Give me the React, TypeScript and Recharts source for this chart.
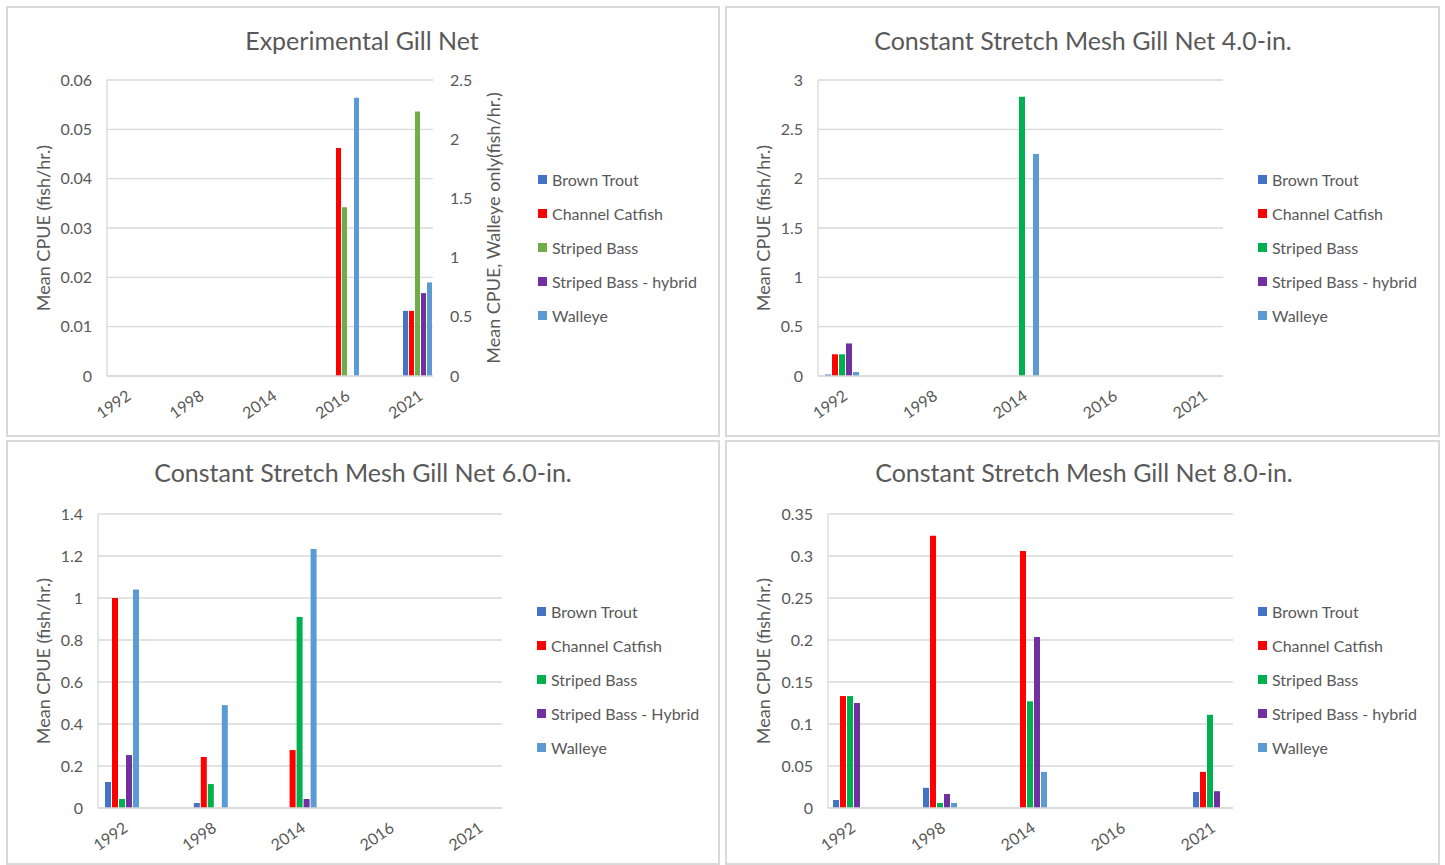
import { BarChart, Bar, XAxis, YAxis, CartesianGrid, Legend } from "recharts";

const years = ["1992", "1998", "2014", "2016", "2021"];

// Experimental Gill Net (walleye on secondary axis)
const expBrown = [0, 0, 0, 0, 0.0132];
const expCatfish = [0, 0, 0, 0.0462, 0.0132];
const expStriped = [0, 0, 0, 0.0342, 0.0536];
const expHybrid = [0, 0, 0, 0, 0.0168];
const expWalleye = [0, 0, 0, 2.35, 0.79];

// Constant Stretch Mesh Gill Net 4.0-in.
const m4Brown = [0.015, 0, 0, 0, 0];
const m4Catfish = [0.22, 0, 0, 0, 0];
const m4Striped = [0.22, 0, 2.83, 0, 0];
const m4Hybrid = [0.33, 0, 0, 0, 0];
const m4Walleye = [0.04, 0, 2.25, 0, 0];

// Constant Stretch Mesh Gill Net 6.0-in.
const m6Brown = [0.124, 0.024, 0, 0, 0];
const m6Catfish = [1.0, 0.243, 0.276, 0, 0];
const m6Striped = [0.043, 0.114, 0.91, 0, 0];
const m6Hybrid = [0.252, 0, 0.043, 0, 0];
const m6Walleye = [1.04, 0.49, 1.233, 0, 0];

// Constant Stretch Mesh Gill Net 8.0-in.
const m8Brown = [0.0095, 0.024, 0, 0, 0.019];
const m8Catfish = [0.1333, 0.324, 0.306, 0, 0.043];
const m8Striped = [0.1333, 0.006, 0.127, 0, 0.111];
const m8Hybrid = [0.125, 0.0167, 0.2035, 0, 0.02];
const m8Walleye = [0, 0.006, 0.043, 0, 0];

const namesLower = ["Brown Trout", "Channel Catfish", "Striped Bass", "Striped Bass - hybrid", "Walleye"];
const namesUpper = ["Brown Trout", "Channel Catfish", "Striped Bass", "Striped Bass - Hybrid", "Walleye"];

const ticksExpLeft = [0, 0.01, 0.02, 0.03, 0.04, 0.05, 0.06];
const ticksExpRight = [0, 0.5, 1, 1.5, 2, 2.5];
const ticksM4 = [0, 0.5, 1, 1.5, 2, 2.5, 3];
const ticksM6 = [0, 0.2, 0.4, 0.6, 0.8, 1, 1.2, 1.4];
const ticksM8 = [0, 0.05, 0.1, 0.15, 0.2, 0.25, 0.3, 0.35];

const grey = "#595959";
const gridColor = "#d9d9d9";
const font = "Lato, 'Open Sans', sans-serif";
const brownColor = "#4472C4";
const catfishColor = "#FF0000";
const stripedGreen = "#70AD47";
const stripedBright = "#00B050";
const hybridColor = "#7030A0";
const walleyeColor = "#5B9BD5";

const makeRows = (b: number[], c: number[], s: number[], h: number[], w: number[]) =>
  years.map((year, i) => ({ year, brown: b[i], catfish: c[i], striped: s[i], hybrid: h[i], walleye: w[i] }));

const renderLegend = (props: any) => (
  <div style={{ fontFamily: font, fontSize: 16, color: grey }}>
    {(props.payload || []).map((p: any) => (
      <div key={p.value} style={{ display: "flex", alignItems: "center", height: 33.8, whiteSpace: "nowrap" }}>
        <span style={{ display: "inline-block", width: 9, height: 9, background: p.color, marginRight: 5 }} />
        <span>{p.value}</span>
      </div>
    ))}
  </div>
);

const tickStyle = { fill: grey, fontSize: 16, fontFamily: font };

function Panel(props: any) {
  const { x, y, w, h, title, titleX, titleY, rows, names, stripedColor, margin, leftTicks, rightTicks,
    pad, barSize, legendX, legendY, yTitleX, rightTitleX, axisTitleY } = props;
  const last = leftTicks.length - 1;
  return (
    <>
      <div style={{ position: "absolute", left: x, top: y, width: w, height: h, border: `2px solid ${gridColor}`, boxSizing: "border-box", background: "#fff" }} />
      <div style={{ position: "absolute", left: titleX, top: titleY, transform: "translate(-50%, -50%)", whiteSpace: "nowrap", fontFamily: font, fontSize: 25, color: grey }}>
        {title}
      </div>
      <div style={{ position: "absolute", left: x, top: y }}>
        <BarChart width={w} height={h} data={rows} margin={margin} barGap={1}>
          <CartesianGrid yAxisId="left" vertical={false} stroke={gridColor} strokeWidth={1.3} />
          <XAxis dataKey="year" height={50} padding={pad} interval={0} tickLine={false}
            axisLine={{ stroke: gridColor, strokeWidth: 1.5 }} tick={tickStyle} angle={-35} textAnchor="end" tickMargin={7} />
          <YAxis yAxisId="left" width={50} domain={[leftTicks[0], leftTicks[last]]} ticks={leftTicks}
            tickLine={false} axisLine={{ stroke: gridColor, strokeWidth: 1.3 }} tick={tickStyle} tickMargin={9} />
          {rightTicks && (
            <YAxis yAxisId="right" orientation="right" width={60} domain={[0, rightTicks[rightTicks.length - 1]]}
              ticks={rightTicks} tickLine={false} axisLine={false} tick={{ ...tickStyle, textAnchor: "start" }} tickMargin={11} />
          )}
          <Legend layout="vertical" align="center" verticalAlign="middle" content={renderLegend}
            wrapperStyle={{ left: legendX, top: legendY, width: 190 }} />
          <Bar yAxisId="left" dataKey="brown" name={names[0]} fill={brownColor} barSize={barSize} isAnimationActive={false} />
          <Bar yAxisId="left" dataKey="catfish" name={names[1]} fill={catfishColor} barSize={barSize} isAnimationActive={false} />
          <Bar yAxisId="left" dataKey="striped" name={names[2]} fill={stripedColor} barSize={barSize} isAnimationActive={false} />
          <Bar yAxisId="left" dataKey="hybrid" name={names[3]} fill={hybridColor} barSize={barSize} isAnimationActive={false} />
          <Bar yAxisId={rightTicks ? "right" : "left"} dataKey="walleye" name={names[4]} fill={walleyeColor} barSize={barSize} isAnimationActive={false} />
        </BarChart>
      </div>
      <div style={{ position: "absolute", left: yTitleX, top: axisTitleY, transform: "translate(-50%, -50%) rotate(-90deg)", whiteSpace: "nowrap", fontFamily: font, fontSize: 18, color: grey }}>
        Mean CPUE (fish/hr.)
      </div>
      {rightTitleX && (
        <div style={{ position: "absolute", left: rightTitleX, top: axisTitleY, transform: "translate(-50%, -50%) rotate(-90deg)", whiteSpace: "nowrap", fontFamily: font, fontSize: 18, color: grey }}>
          Mean CPUE, Walleye only(fish/hr.)
        </div>
      )}
    </>
  );
}

export default function App() {
  return (
    <div style={{ position: "absolute", left: 0, top: 0, width: 1445, height: 865, background: "#fff", overflow: "hidden" }}>
      <Panel x={6} y={6} w={714} h={431} title="Experimental Gill Net" titleX={362} titleY={40}
        rows={makeRows(expBrown, expCatfish, expStriped, expHybrid, expWalleye)} names={namesLower} stripedColor={stripedGreen}
        margin={{ top: 74, right: 227, bottom: 11, left: 51 }} leftTicks={ticksExpLeft} rightTicks={ticksExpRight}
        pad={{ left: -18, right: -21 }} barSize={5} legendX={532} legendY={157}
        yTitleX={43} rightTitleX={493} axisTitleY={228} />
      <Panel x={725} y={6} w={715} h={431} title="Constant Stretch Mesh Gill Net 4.0-in." titleX={1083} titleY={40}
        rows={makeRows(m4Brown, m4Catfish, m4Striped, m4Hybrid, m4Walleye)} names={namesLower} stripedColor={stripedBright}
        margin={{ top: 74, right: 217, bottom: 11, left: 43 }} leftTicks={ticksM4}
        pad={{ left: -21, right: -24 }} barSize={6} legendX={533} legendY={157}
        yTitleX={763} axisTitleY={228} />
      <Panel x={6} y={440} w={714} h={425} title="Constant Stretch Mesh Gill Net 6.0-in." titleX={363} titleY={472}
        rows={makeRows(m6Brown, m6Catfish, m6Striped, m6Hybrid, m6Walleye)} names={namesUpper} stripedColor={stripedBright}
        margin={{ top: 74, right: 218, bottom: 7, left: 42 }} leftTicks={ticksM6}
        pad={{ left: -20, right: -20 }} barSize={6} legendX={531} legendY={155}
        yTitleX={43} axisTitleY={661} />
      <Panel x={725} y={440} w={715} h={425} title="Constant Stretch Mesh Gill Net 8.0-in." titleX={1084} titleY={472}
        rows={makeRows(m8Brown, m8Catfish, m8Striped, m8Hybrid, m8Walleye)} names={namesLower} stripedColor={stripedBright}
        margin={{ top: 74, right: 207, bottom: 7, left: 53 }} leftTicks={ticksM8}
        pad={{ left: -23, right: -22 }} barSize={6} legendX={533} legendY={155}
        yTitleX={763} axisTitleY={661} />
    </div>
  );
}
